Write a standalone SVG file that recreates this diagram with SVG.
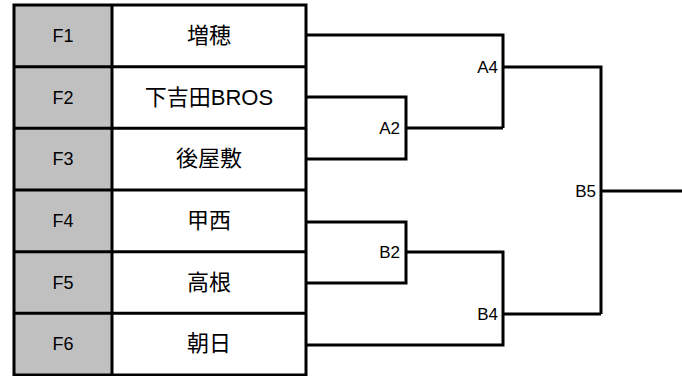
<svg xmlns="http://www.w3.org/2000/svg" width="682" height="376" viewBox="0 0 682 376">
<style>
.bg{fill:#ffffff}
.seed{fill:#c0c0c0}
.grid{fill:none;stroke:#000;stroke-width:3}
.wire{fill:none;stroke:#000;stroke-width:3}
.num{font-family:'Liberation Sans',Arial,sans-serif;font-size:18px;fill:#000;text-anchor:middle}
.team{font-family:'Liberation Sans','Noto Sans CJK JP',sans-serif;font-size:22px;fill:#000;text-anchor:middle}
.lbl{font-family:'Liberation Sans',Arial,sans-serif;font-size:17px;fill:#000;text-anchor:end}
</style>
<rect class="bg" x="0" y="0" width="682" height="376"/>
<g id="table">
<rect class="seed" x="14" y="5" width="98" height="370"/>
<rect x="112" y="5" width="194" height="370" fill="#fff"/>
</g>
<g id="F1"><text class="num" x="63" y="42">F1</text><text class="team" x="209" y="43">増穂</text></g>
<g id="F2"><text class="num" x="63" y="104">F2</text><text class="team" x="209" y="105">下吉田BROS</text></g>
<g id="F3"><text class="num" x="63" y="165">F3</text><text class="team" x="209" y="166">後屋敷</text></g>
<g id="F4"><text class="num" x="63" y="227">F4</text><text class="team" x="209" y="228">甲西</text></g>
<g id="F5"><text class="num" x="63" y="289">F5</text><text class="team" x="209" y="290">高根</text></g>
<g id="F6"><text class="num" x="63" y="350">F6</text><text class="team" x="209" y="351">朝日</text></g>
<g id="grid">
<rect class="grid" x="14" y="5" width="292" height="370"/>
<path class="grid" d="M112 5V375M14 66.7H306M14 128.3H306M14 190H306M14 251.7H306M14 313.3H306"/>
</g>
<g id="connectors">
<path class="wire" d="M306 35H503V128M306 97H406V159H306M406 128H503M503 67H601V314M601 191H682"/>
<path class="wire" d="M306 222H406V283H306M406 252H503V345H306M503 314H601"/>
</g>
<g id="A2"><text class="lbl" x="400" y="134">A2</text></g>
<g id="A4"><text class="lbl" x="498" y="73">A4</text></g>
<g id="B2"><text class="lbl" x="400" y="258">B2</text></g>
<g id="B4"><text class="lbl" x="498" y="320">B4</text></g>
<g id="B5"><text class="lbl" x="596" y="197">B5</text></g>
</svg>
